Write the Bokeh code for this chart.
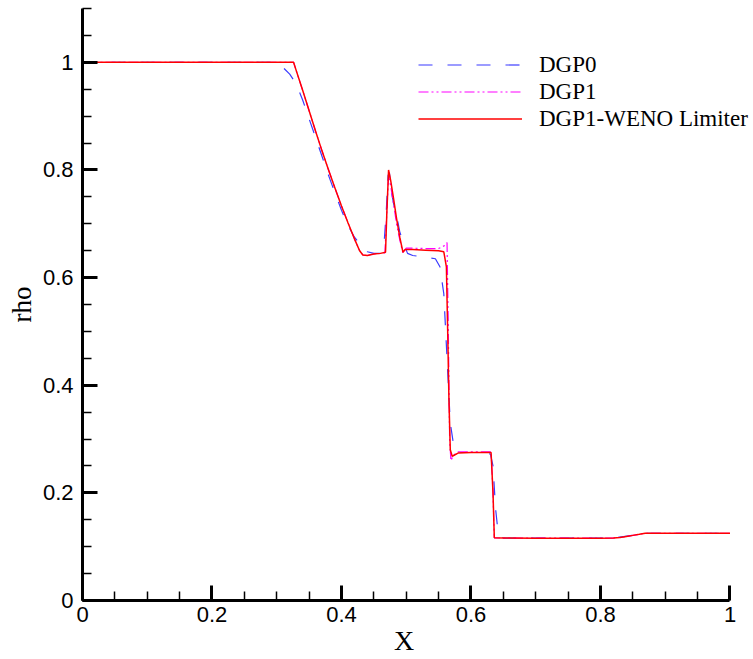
from bokeh.plotting import figure
from bokeh.models import FixedTicker, Legend, LegendItem
from bokeh.embed import file_html
from bokeh.resources import INLINE

# ---- data ----
x_dgp0 = [0.0, 0.29, 0.30, 0.31, 0.32, 0.33, 0.34, 0.35, 0.36, 0.37, 0.38, 0.39, 0.40,
          0.41, 0.42, 0.43, 0.44, 0.45, 0.46, 0.463, 0.466, 0.469, 0.472, 0.474, 0.477,
          0.48, 0.486, 0.49, 0.496, 0.502, 0.51, 0.53, 0.545, 0.552, 0.558, 0.563, 0.568,
          0.573, 0.58, 0.59, 0.62, 0.63, 0.634, 0.638, 0.642, 0.65, 0.80, 0.82, 0.87, 1.0]
rho_dgp0 = [1.0, 1.0, 0.996, 0.99, 0.978, 0.96, 0.93, 0.895, 0.86, 0.825, 0.79, 0.757, 0.725,
            0.697, 0.675, 0.66, 0.648, 0.645, 0.645, 0.65, 0.668, 0.72, 0.79, 0.795, 0.76,
            0.74, 0.71, 0.685, 0.664, 0.645, 0.641, 0.638, 0.635, 0.62, 0.57, 0.45, 0.33,
            0.29, 0.275, 0.275, 0.275, 0.272, 0.25, 0.17, 0.125, 0.1158, 0.1158, 0.116, 0.125, 0.125]

x_dgp1 = [0.0, 0.326, 0.33, 0.34, 0.35, 0.36, 0.37, 0.38, 0.39, 0.40, 0.41, 0.42, 0.428,
          0.433, 0.44, 0.45, 0.46, 0.467, 0.470, 0.4727, 0.476, 0.48, 0.485, 0.49, 0.495,
          0.50, 0.53, 0.55, 0.56, 0.563, 0.565, 0.567, 0.569, 0.573, 0.58, 0.62, 0.631,
          0.634, 0.636, 0.65, 0.80, 0.82, 0.84, 0.86, 0.869, 1.0]
rho_dgp1 = [1.0, 1.0, 0.985, 0.948, 0.91, 0.872, 0.835, 0.80, 0.766, 0.733, 0.702, 0.672, 0.65,
            0.642, 0.641, 0.644, 0.645, 0.646, 0.72, 0.79, 0.77, 0.74, 0.70, 0.67, 0.645,
            0.655, 0.654, 0.654, 0.66, 0.665, 0.50, 0.30, 0.26, 0.27, 0.276, 0.276, 0.276,
            0.2, 0.1165, 0.116, 0.1158, 0.116, 0.119, 0.123, 0.125, 0.125]

x_weno = [0.0, 0.326, 0.33, 0.34, 0.35, 0.36, 0.37, 0.38, 0.39, 0.40, 0.41, 0.42, 0.428,
          0.433, 0.44, 0.45, 0.46, 0.468, 0.470, 0.4727, 0.476, 0.48, 0.485, 0.49, 0.495,
          0.498, 0.51, 0.53, 0.55, 0.558, 0.562, 0.564, 0.566, 0.568, 0.571, 0.58, 0.60,
          0.62, 0.631, 0.634, 0.636, 0.65, 0.70, 0.75, 0.80, 0.82, 0.83, 0.84, 0.85, 0.86,
          0.869, 0.90, 1.0]
rho_weno = [1.0, 1.0, 0.985, 0.948, 0.91, 0.872, 0.835, 0.80, 0.766, 0.733, 0.702, 0.672, 0.65,
            0.642, 0.641, 0.644, 0.645, 0.647, 0.72, 0.80, 0.78, 0.75, 0.71, 0.675, 0.647,
            0.652, 0.652, 0.651, 0.65, 0.648, 0.62, 0.50, 0.37, 0.28, 0.268, 0.274, 0.275,
            0.275, 0.275, 0.20, 0.1165, 0.116, 0.1158, 0.1158, 0.1158, 0.116, 0.117, 0.119,
            0.121, 0.123, 0.125, 0.125, 0.125]

x_major = [0.0, 0.2, 0.4, 0.6, 0.8, 1.0]
x_minor = [0.05 * i for i in range(21)]
y_major = [0.0, 0.2, 0.4, 0.6, 0.8, 1.0]
y_minor = [0.05 * i for i in range(23)]
tick_text = {0.0: "0", 0.2: "0.2", 0.4: "0.4", 0.6: "0.6", 0.8: "0.8", 1.0: "1"}

series_names = ["DGP0", "DGP1", "DGP1-WENO Limiter"]

# frame runs to the right edge so the legend is not clipped; axis line stops at x = 1
p = figure(width=753, height=659, x_range=(0, 1.0363), y_range=(0, 1.1),
           output_backend="svg", toolbar_location=None,
           min_border_left=82, min_border_right=0, min_border_top=8, min_border_bottom=59)
p.outline_line_color = None
p.xgrid.visible = False
p.ygrid.visible = False
p.background_fill_color = "white"
p.border_fill_color = "white"

r0 = p.line(x_dgp0, rho_dgp0, line_color="#3b3bff", line_width=1.2, line_dash="14 15")
r1 = p.line(x_dgp1, rho_dgp1, line_color="#ff00ff", line_width=1.2, line_dash="10 3 2 3 2 3")
r2 = p.line(x_weno, rho_weno, line_color="#ff0000", line_width=1.5)

for ax, major, minor in ((p.xaxis[0], x_major, x_minor), (p.yaxis[0], y_major, y_minor)):
    ax.ticker = FixedTicker(ticks=major, minor_ticks=minor)
    ax.major_label_overrides = tick_text
    ax.axis_line_width = 3
    ax.axis_line_color = "black"
    ax.major_tick_line_width = 3
    ax.major_tick_in = 15
    ax.major_tick_out = 0
    ax.minor_tick_line_width = 1.5
    ax.minor_tick_in = 9
    ax.minor_tick_out = 0
    ax.major_label_text_font = "Liberation Sans"
    ax.major_label_text_font_size = "22px"
    ax.major_label_text_color = "black"
    ax.axis_label_text_font = "Liberation Serif"
    ax.axis_label_text_font_style = "normal"
    ax.axis_label_text_color = "black"

p.xaxis.bounds = (0, 1)
# trailing em space shifts the centred title left so it sits under x = 0.5
p.xaxis.axis_label = "X\u2003"
p.xaxis.axis_label_text_font_size = "28px"
p.xaxis.major_label_standoff = 6
p.xaxis.axis_label_standoff = 0
p.yaxis.axis_label = "rho"
p.yaxis.axis_label_text_font_size = "27px"
p.yaxis.major_label_standoff = 9
p.yaxis.axis_label_standoff = 3

legend = Legend(items=[LegendItem(label=series_names[0], renderers=[r0]),
                       LegendItem(label=series_names[1], renderers=[r1]),
                       LegendItem(label=series_names[2], renderers=[r2])],
                location=(336, 468), padding=0, margin=0, spacing=0,
                glyph_width=104, glyph_height=27, label_height=27, label_standoff=17,
                label_text_font="Liberation Serif", label_text_font_size="23px",
                label_text_color="black", border_line_color=None,
                background_fill_alpha=0)
p.add_layout(legend)

open("out.html", "w").write(file_html(p, INLINE))
